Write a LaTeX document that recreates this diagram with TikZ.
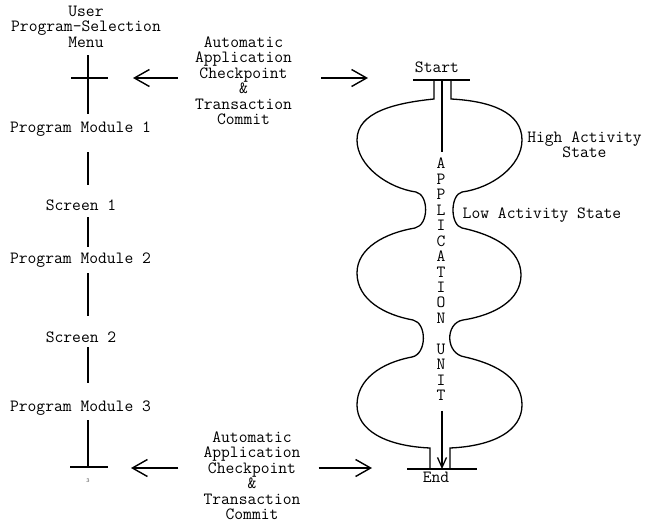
\documentclass[tikz,border=0pt]{standalone}
\usepackage{fontspec}
\usepackage{tikz}
\usetikzlibrary{arrows.meta,calc,positioning}
\tikzset{
  txt/.style={font=\ttfamily\fontsize{17.1}{15.45}\selectfont,inner sep=0pt,align=center},
  spine/.style={line width=1.8pt},
  bar/.style={line width=1.6pt},
  blob/.style={line width=1.3pt},
  chk/.style={line width=1.4pt,-{Straight Barb[length=15pt,width=17pt]}}
}

\begin{document}
\begin{tikzpicture}[x=1pt,y=-1pt]
	\useasboundingbox (0,0) rectangle (646,525);
	
	% program chain on the left
	\coordinate (sel) at (88,78);
	\coordinate (fin) at (88,467);
	\node[txt,anchor=north] (menu) at (86,5.5) {User\\Program-Selection\\Menu};
	\node[txt,anchor=base] (pm1) at (80.5,132) {Program Module 1};
	\node[txt,anchor=base] (sc1) at (81,210) {Screen 1};
	\node[txt,anchor=base] (pm2) at (80.5,263) {Program Module 2};
	\node[txt,anchor=base] (sc2) at (81,342) {Screen 2};
	\node[txt,anchor=base] (pm3) at (80.5,411) {Program Module 3};
	\node[font=\ttfamily\fontsize{6}{6}\selectfont,text=black!70,inner sep=0pt] (pgno) at (88,481) {3};
	
	\draw[spine,shorten <=8pt,shorten >=7pt] (menu.south -| sel) -- (pm1.north -| sel);
	\draw[spine,shorten <=16pt,shorten >=14pt] (pm1.south -| sel) -- (sc1.north -| sel);
	\draw[spine,shorten <=7pt,shorten >=5pt] (sc1.south -| sel) -- (pm2.north -| sel);
	\draw[spine,shorten <=6pt,shorten >=15pt] (pm2.south -| sel) -- (sc2.north -| sel);
	\draw[spine,shorten <=5pt,shorten >=17pt] (sc2.south -| sel) -- (pm3.north -| sel);
	\draw[spine,shorten <=5pt] (pm3.south -| sel) -- (fin);
	
	\draw[bar] (sel) +(-17,0) -- +(20,0);
	\draw[bar] (fin) +(-18,0) -- +(20,0);
	
	% checkpoints
	\node[txt,anchor=north] (ckTop) at (243.5,36.5) {Automatic\\Application\\Checkpoint\\\&\\Transaction\\Commit};
	\node[txt,anchor=north] (ckBot) at (252,431.5) {Automatic\\Application\\Checkpoint\\\&\\Transaction\\Commit};
	\coordinate (topL) at (133,78);
	\coordinate (topR) at (368,78);
	\coordinate (botL) at (131,468);
	\coordinate (botR) at (372,468);
	\draw[chk,shorten <=17pt] (ckTop.west |- topL) -- (topL);
	\draw[chk,shorten <=29pt] (ckTop.east |- topR) -- (topR);
	\draw[chk,shorten <=25pt] (ckBot.west |- botL) -- (botL);
	\draw[chk,shorten <=18pt] (ckBot.east |- botR) -- (botR);
	
	% application unit
	\node[txt,anchor=base] (start) at (437,72) {Start};
	\node[txt,anchor=base] (end) at (436,482) {End};
	\draw[bar] (413,80) -- (470,80);
	\draw[bar] (407,469) -- (477,469);
	
	\draw[blob] (451,80) -- (451,99)
		.. controls (490,101) and (522,112) .. (522,140)
		.. controls (522,166) and (492,188) .. (462,192)
		.. controls (450,195) and (450,225) .. (462,228)
		.. controls (495,235) and (521,250) .. (521,275)
		.. controls (521,300) and (495,315) .. (463,320)
		.. controls (445,323) and (445,354) .. (465,357)
		.. controls (500,365) and (522,380) .. (522,405)
		.. controls (522,430) and (495,446) .. (450,448)
		-- (450,468);
	\draw[blob] (434,80) -- (434,99)
		.. controls (395,103) and (357,112) .. (357,140)
		.. controls (357,166) and (388,188) .. (416,192)
		.. controls (429,195) and (429,225) .. (415,228)
		.. controls (385,233) and (357,248) .. (357,273)
		.. controls (357,300) and (385,315) .. (413,320)
		.. controls (427,323) and (427,354) .. (412,357)
		.. controls (380,363) and (357,380) .. (357,405)
		.. controls (357,430) and (385,446) .. (430,448)
		-- (430,468);
	
	\coordinate (sIn) at (442,80);
	\coordinate (eOut) at (442,469);
	\node[txt,anchor=north,inner ysep=6pt] (unit) at (441,152) {A\\P\\P\\L\\I\\C\\A\\T\\I\\O\\N\\[15.45pt]U\\N\\I\\T};
	\draw[blob] (sIn) -- (unit.north -| sIn);
	\draw[blob,shorten <=4pt,-{Straight Barb[length=10pt,width=9pt]}] (unit.south -| sIn) -- (eOut);
	
	\node[txt,anchor=north] (high) at (584.5,131.2) {High Activity\\State};
	\node[txt,anchor=base] (low) at (542,218) {Low Activity State};
	
\end{tikzpicture}
\end{document}
